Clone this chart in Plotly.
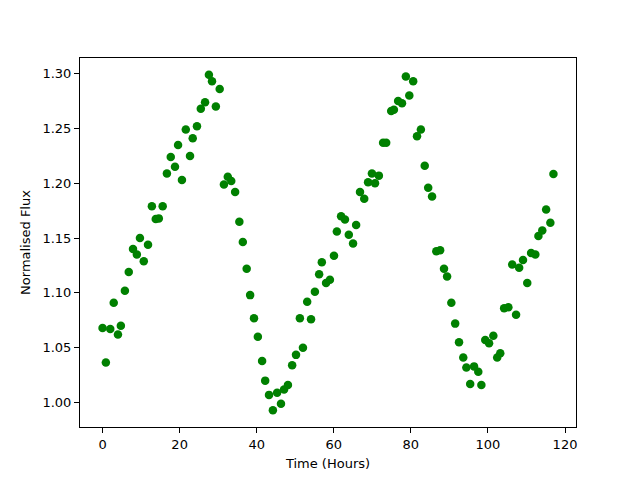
import plotly.graph_objects as go

time_hours = [0.0, 0.86, 2.0, 2.9, 4.0, 4.75, 5.8, 6.8, 7.9, 8.9, 9.7, 10.7, 11.8, 12.8, 13.8, 14.6,
              15.6, 16.7, 17.7, 18.8, 19.6, 20.6, 21.6, 22.7, 23.4, 24.5, 25.5, 26.6, 27.6, 28.4,
              29.4, 30.4, 31.5, 32.5, 33.4, 34.4, 35.5, 36.4, 37.4, 38.3, 39.3, 40.3, 41.4, 42.2,
              43.2, 44.2, 45.3, 46.3, 47.1, 48.1, 49.2, 50.2, 51.2, 52.0, 53.1, 54.1, 55.1, 56.2,
              56.9, 58.0, 59.0, 60.05, 60.8, 61.9, 62.9, 63.9, 65.0, 65.8, 66.8, 67.9, 68.9, 69.9,
              70.7, 71.7, 72.8, 73.6, 74.9, 75.6, 76.7, 77.7, 78.7, 79.6, 80.6, 81.6, 82.6, 83.6,
              84.5, 85.5, 86.6, 87.6, 88.6, 89.4, 90.5, 91.5, 92.5, 93.6, 94.4, 95.4, 96.4, 97.5,
              98.3, 99.3, 100.3, 101.4, 102.4, 103.2, 104.2, 105.3, 106.3, 107.3, 108.1, 109.1,
              110.2, 111.2, 112.3, 113.1, 114.1, 115.1, 116.2, 117.0]

norm_flux = [1.068, 1.0365, 1.067, 1.091, 1.062, 1.070, 1.102, 1.119, 1.140, 1.135, 1.150, 1.129,
             1.144, 1.179, 1.1675, 1.168, 1.179, 1.209, 1.224, 1.215, 1.235, 1.203, 1.249, 1.225,
             1.241, 1.252, 1.268, 1.274, 1.299, 1.293, 1.270, 1.286, 1.199, 1.206, 1.202, 1.192,
             1.165, 1.1465, 1.122, 1.098, 1.077, 1.060, 1.038, 1.020, 1.007, 0.993, 1.009, 0.999,
             1.012, 1.016, 1.034, 1.0435, 1.077, 1.050, 1.092, 1.076, 1.101, 1.117, 1.128, 1.109,
             1.112, 1.134, 1.156, 1.170, 1.167, 1.153, 1.145, 1.162, 1.192, 1.186, 1.201, 1.209,
             1.200, 1.207, 1.237, 1.237, 1.266, 1.267, 1.275, 1.273, 1.2975, 1.280, 1.293, 1.243,
             1.249, 1.216, 1.196, 1.188, 1.138, 1.139, 1.122, 1.115, 1.091, 1.072, 1.055, 1.041,
             1.032, 1.017, 1.033, 1.028, 1.016, 1.057, 1.054, 1.061, 1.041, 1.045, 1.086, 1.087,
             1.126, 1.080, 1.123, 1.130, 1.109, 1.1365, 1.135, 1.152, 1.157, 1.176, 1.164, 1.2085]

x_ticks = [0, 20, 40, 60, 80, 100, 120]
y_ticks = [1.00, 1.05, 1.10, 1.15, 1.20, 1.25, 1.30]

fig = go.Figure(go.Scatter(
    x=time_hours, y=norm_flux, mode="markers",
    marker=dict(color="#008000", size=8.5, line=dict(width=0)),
    showlegend=False,
))

axis_common = dict(
    showline=True, linecolor="black", linewidth=1, mirror=True,
    ticks="outside", ticklen=5, tickwidth=1, tickcolor="black",
    showgrid=False, zeroline=False, automargin=False,
    tickfont=dict(family="DejaVu Sans", size=13, color="black"),
)

# page body has an 8px default margin, so the figure is offset by (8, 8)
fig.update_layout(
    width=632, height=472,
    margin=dict(l=72, r=64, t=50, b=53),
    paper_bgcolor="white", plot_bgcolor="white",
    font=dict(family="DejaVu Sans", size=13, color="black"),
    xaxis=dict(range=[-5.85, 122.85], tickvals=x_ticks, ticktext=[str(v) for v in x_ticks],
               title=dict(text="Time (Hours)", standoff=8,
                          font=dict(family="DejaVu Sans", size=13, color="black")),
               **axis_common),
    yaxis=dict(range=[0.9777, 1.3143], tickvals=y_ticks, ticktext=[f"{v:.2f}" for v in y_ticks],
               title=dict(text="Normalised Flux", standoff=8,
                          font=dict(family="DejaVu Sans", size=13, color="black")),
               **axis_common),
)

fig.write_html("out.html")
